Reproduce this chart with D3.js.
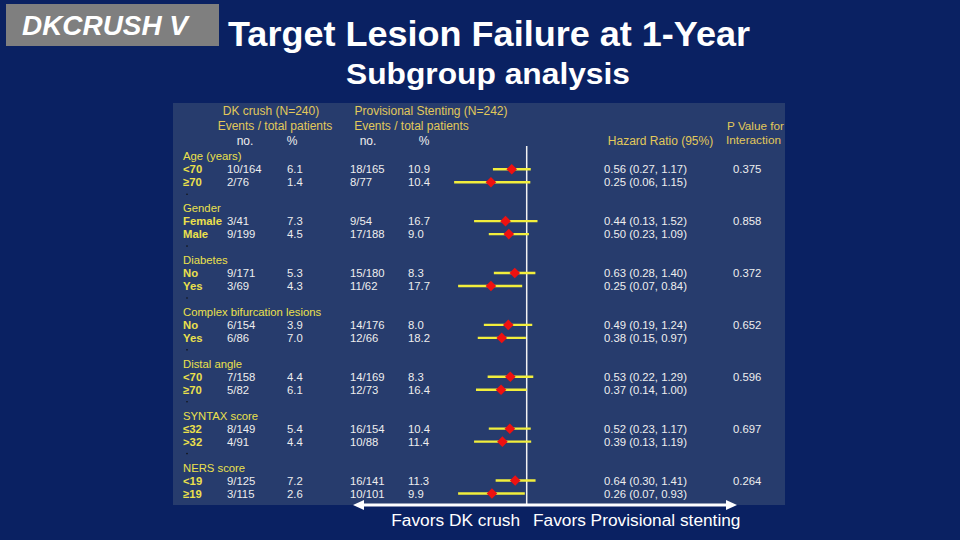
<!DOCTYPE html>
<html><head><meta charset="utf-8">
<script src="https://cdn.jsdelivr.net/npm/d3@7/dist/d3.min.js"></script>
<style>
html,body{margin:0;padding:0;background:#0a2162;}
svg{display:block;font-family:"Liberation Sans",Arial,Helvetica,sans-serif;}
</style></head>
<body>
<script>
const groups = ["Age (years)", "Gender", "Diabetes", "Complex bifurcation lesions", "Distal angle", "SYNTAX score", "NERS score"];
const subgroups = ["<70", "≥70", "Female", "Male", "No", "Yes", "No", "Yes", "<70", "≥70", "≤32", ">32", "<19", "≥19"];
const dkEvents = ["10/164", "2/76", "3/41", "9/199", "9/171", "3/69", "6/154", "6/86", "7/158", "5/82", "8/149", "4/91", "9/125", "3/115"];
const dkPct = ["6.1", "1.4", "7.3", "4.5", "5.3", "4.3", "3.9", "7.0", "4.4", "6.1", "5.4", "4.4", "7.2", "2.6"];
const psEvents = ["18/165", "8/77", "9/54", "17/188", "15/180", "11/62", "14/176", "12/66", "14/169", "12/73", "16/154", "10/88", "16/141", "10/101"];
const psPct = ["10.9", "10.4", "16.7", "9.0", "8.3", "17.7", "8.0", "18.2", "8.3", "16.4", "10.4", "11.4", "11.3", "9.9"];
const hr = [0.56, 0.25, 0.44, 0.50, 0.63, 0.25, 0.49, 0.38, 0.53, 0.37, 0.52, 0.39, 0.64, 0.26];
const ciLow = [0.27, 0.06, 0.13, 0.23, 0.28, 0.07, 0.19, 0.15, 0.22, 0.14, 0.23, 0.13, 0.30, 0.07];
const ciHigh = [1.17, 1.15, 1.52, 1.09, 1.40, 0.84, 1.24, 0.97, 1.29, 1.00, 1.17, 1.19, 1.41, 0.93];
const pInteraction = ["0.375", "0.858", "0.372", "0.652", "0.596", "0.697", "0.264"];

const W = 960, H = 540;
const svg = d3.select("body").append("svg").attr("width", W).attr("height", H);
svg.append("rect").attr("width", W).attr("height", H).attr("fill", "#0a2162");

// Top-left label box
svg.append("rect").attr("x", 6).attr("y", 4).attr("width", 213).attr("height", 42).attr("fill", "#7f7f7f");
svg.append("text").attr("x", 22).attr("y", 35).attr("fill", "#fff")
  .attr("font-size", 27).attr("font-weight", "bold").attr("font-style", "italic")
  .attr("textLength", 166).attr("lengthAdjust", "spacingAndGlyphs").text("DKCRUSH V");

// Titles
svg.append("text").attr("x", 228).attr("y", 46).attr("fill", "#fff")
  .attr("font-size", 35).attr("font-weight", "bold")
  .attr("textLength", 522).attr("lengthAdjust", "spacingAndGlyphs").text("Target Lesion Failure at 1-Year");
svg.append("text").attr("x", 346).attr("y", 84).attr("fill", "#fff")
  .attr("font-size", 29).attr("font-weight", "bold")
  .attr("textLength", 284).attr("lengthAdjust", "spacingAndGlyphs").text("Subgroup analysis");

// Panel
svg.append("rect").attr("x", 173).attr("y", 103).attr("width", 612).attr("height", 402).attr("fill", "#273c6d");

const yellowHead = "#e2c95a", yellow = "#ebe04c", white = "#eeeeee";
function t(x, y, s, col, opts) {
  opts = opts || {};
  const el = svg.append("text").attr("x", x).attr("y", y).attr("fill", col).attr("font-size", opts.size || 11.3)
    .attr("text-anchor", opts.anchor || "start").attr("font-weight", opts.fw || "normal").text(s);
  if (opts.len) el.attr("textLength", opts.len).attr("lengthAdjust", "spacingAndGlyphs");
  return el;
}
const H12 = {size: 12, anchor: "middle"};
// Column headers
t(271, 115, "DK crush (N=240)", yellowHead, H12);
t(275, 130, "Events / total patients", yellowHead, H12);
t(245, 145, "no.", white, H12);
t(292, 145, "%", white, H12);
t(431, 115, "Provisional Stenting (N=242)", yellowHead, H12);
t(411.5, 130, "Events / total patients", yellowHead, H12);
t(368, 145, "no.", white, H12);
t(424, 145, "%", white, H12);
t(660.5, 145, "Hazard Ratio (95%)", yellowHead, H12);
t(727, 130, "P Value for", yellowHead, {size: 11.2, len: 57});
t(726, 143.5, "Interaction", yellowHead, {size: 11.2, len: 55});

// Row layout
const y = d3.scaleLinear().domain([0, 27]).range([156.3, 156.3 + 27 * 12.97]);
const x = d3.scaleLog().domain([0.01, 10]).range([526.7 - 2 * 59.4, 526.7 + 59.4]);

const subRow = i => Math.floor(i / 2) * 4 + 1 + (i % 2);

groups.forEach((g, gi) => {
  t(183, y(gi * 4) + 4, g, yellow);
  if (gi > 0) svg.append("circle").attr("cx", 187).attr("cy", y(gi * 4 - 1) - 1).attr("r", 0.8).attr("fill", "#111");
  t(733, y(gi * 4 + 1) + 4, pInteraction[gi], white);
});

subgroups.forEach((s, i) => {
  const yy = y(subRow(i)) + 4;
  t(183, yy, s, yellow, {fw: "bold"});
  t(227, yy, dkEvents[i], white);
  t(287, yy, dkPct[i], white);
  t(350, yy, psEvents[i], white);
  t(408, yy, psPct[i], white);
  t(604, yy, `${hr[i].toFixed(2)} (${ciLow[i].toFixed(2)}, ${ciHigh[i].toFixed(2)})`, white);
});

// Reference line at HR = 1
svg.append("line").attr("x1", x(1)).attr("x2", x(1)).attr("y1", 146).attr("y2", 505)
  .attr("stroke", "#f2f2f2").attr("stroke-width", 1.5);

// CI lines and markers
const forest = svg.append("g");
forest.selectAll("line.ci").data(hr).enter().append("line").attr("class", "ci")
  .attr("x1", (d, i) => x(ciLow[i])).attr("x2", (d, i) => x(ciHigh[i]))
  .attr("y1", (d, i) => y(subRow(i))).attr("y2", (d, i) => y(subRow(i)))
  .attr("stroke", "#f2ee3c").attr("stroke-width", 2.4);
forest.selectAll("path.mk").data(hr).enter().append("path").attr("class", "mk")
  .attr("d", d3.symbol(d3.symbolSquare, 56)())
  .attr("transform", (d, i) => `translate(${x(d)},${y(subRow(i))}) rotate(45)`)
  .attr("fill", "#ee1111");

// Bottom double arrow
const ay = 505;
svg.append("line").attr("x1", 360).attr("x2", 730).attr("y1", ay).attr("y2", ay)
  .attr("stroke", "#fff").attr("stroke-width", 3);
svg.append("path").attr("d", `M353,${ay} L364,${ay - 5} L364,${ay + 5} Z`).attr("fill", "#fff");
svg.append("path").attr("d", `M737,${ay} L726,${ay - 5} L726,${ay + 5} Z`).attr("fill", "#fff");

svg.append("text").attr("x", 520).attr("y", 526).attr("text-anchor", "end").attr("fill", "#fff")
  .attr("font-size", 17.3).text("Favors DK crush");
svg.append("text").attr("x", 533).attr("y", 526).attr("fill", "#fff")
  .attr("font-size", 17.3).text("Favors Provisional stenting");
</script>
</body></html>
